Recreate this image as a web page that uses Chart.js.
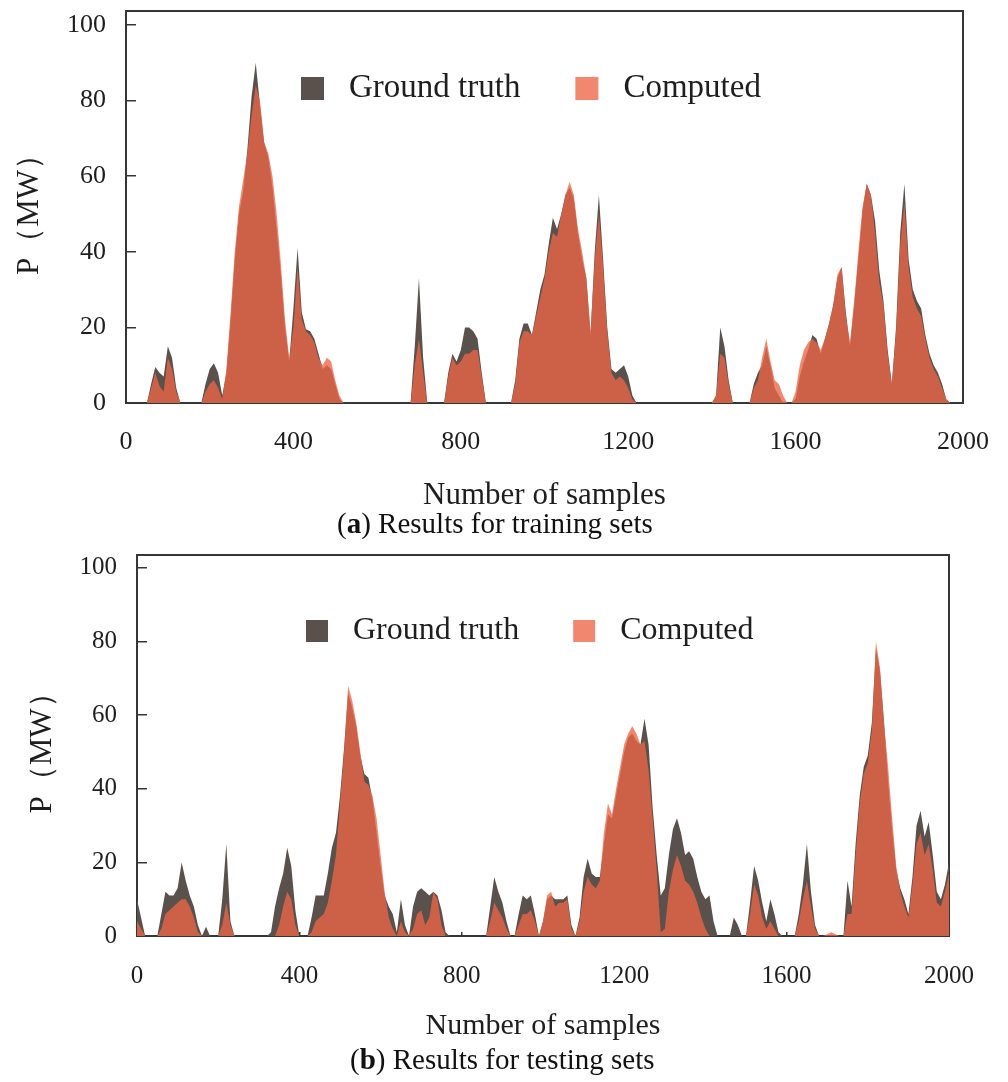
<!DOCTYPE html>
<html>
<head>
<meta charset="utf-8">
<title>Training and testing results</title>
<script src="https://cdn.jsdelivr.net/npm/chart.js@4.4.0/dist/chart.umd.min.js"></script>
<style>
  html, body { margin: 0; padding: 0; background: #fff; }
  #page { position: relative; width: 1008px; height: 1082px; overflow: hidden; background: #fff; }
  canvas { position: absolute; left: 0; }
  #chartA { top: 0; }
  #chartB { top: 545px; }
  .caption { position: absolute; font-family: 'Liberation Serif', serif; font-size: 29px; line-height: 32px; color: #111; white-space: nowrap; }
  #capA { left: 337px; top: 507px; }
  #capB { left: 350px; top: 1043px; }
</style>
</head>
<body>
<div id="page">
  <canvas id="chartA" width="1008" height="514"></canvas>
  <canvas id="chartB" width="1008" height="499"></canvas>
  <div class="caption" id="capA">(<b>a</b>) Results for training sets</div>
  <div class="caption" id="capB">(<b>b</b>) Results for testing sets</div>
</div>
<script>
// sample index, one value every 10 samples (0 .. 2000)
let samples = Array.from({length: 201}, (_, i) => i * 10);
let xTicks = [0, 400, 800, 1200, 1600, 2000];
let yTicks = [0, 20, 40, 60, 80, 100];

// (a) training set, P in MW
let trainTruth = [
  0, 0, 0, 0, 0, 0, 5, 9.5, 8, 7,            // 0
  15, 12, 4, 0, 0, 0, 0, 0, 0, 5,            // 100
  9, 10.5, 8, 2, 8, 22, 38, 50, 56, 67,      // 200
  81, 90, 79, 69, 65, 57, 46, 34, 20, 11,    // 300
  25, 41, 24, 19.5, 19, 17, 13, 9, 10, 9,    // 400
  5, 1, 0, 0, 0, 0, 0, 0, 0, 0,              // 500
  0, 0, 0, 0, 0, 0, 0, 0, 0, 15,             // 600
  33, 12, 0, 0, 0, 0, 0, 8, 13, 11,          // 700
  14, 20, 20, 19, 17, 8, 0, 0, 0, 0,         // 800
  0, 0, 0, 6, 17, 21, 21, 18, 24, 30,        // 900
  34, 42, 49, 46, 50, 55, 57, 54, 45, 38,    // 1000
  33, 18, 40, 55, 38, 20, 9, 8, 9, 10,       // 1100
  7, 2, 0, 0, 0, 0, 0, 0, 0, 0,              // 1200
  0, 0, 0, 0, 0, 0, 0, 0, 0, 0,              // 1300
  0, 2, 20, 15, 6, 0, 0, 0, 0, 0,            // 1400
  5, 8, 10, 15, 10, 4, 2, 0, 0, 0,           // 1500
  1, 7, 11, 14, 18, 17, 13, 17, 21, 26,      // 1600
  33, 36, 24, 15, 26, 38, 51, 58, 55, 48,    // 1700
  35, 27, 14, 5, 20, 45, 58, 38, 30, 27,     // 1800
  25, 18, 13, 10, 8, 5, 1, 0, 0, 0,          // 1900
  0
];
let trainComputed = [
  0, 0, 0, 0, 0, 0, 4, 8, 4.5, 3,
  12, 9, 3, 0, 0, 0, 0, 0, 0, 3,
  5, 6, 4, 1, 9, 24, 40, 52, 59, 66,
  76, 84, 80, 69, 66, 60, 50, 37, 22, 12,
  20, 36, 22, 19, 18, 16, 12, 10, 12, 11,
  6, 2, 0, 0, 0, 0, 0, 0, 0, 0,
  0, 0, 0, 0, 0, 0, 0, 0, 0, 10,
  17, 8, 0, 0, 0, 0, 0, 7, 12, 10,
  11, 13, 13, 14, 14, 7, 0, 0, 0, 0,
  0, 0, 0, 5, 16, 19, 19, 18, 23, 28,
  33, 40, 45, 44, 50, 55, 58.5, 55, 46, 40,
  33, 19, 38, 50, 36, 19, 8, 6, 7, 6,
  4, 1, 0, 0, 0, 0, 0, 0, 0, 0,
  0, 0, 0, 0, 0, 0, 0, 0, 0, 0,
  0, 2, 13, 12, 5, 0, 0, 0, 0, 0,
  4, 6, 12, 17, 11, 6, 5, 2, 0, 0,
  3, 10, 14, 16, 17, 16, 14, 17, 21, 26,
  34, 36, 23, 16, 27, 40, 52, 58, 55, 45,
  32, 26, 13, 5, 19, 42, 53, 36, 28, 25,
  23, 17, 12, 9, 7, 4, 1, 0, 0, 0,
  0
];

// (b) testing set, P in MW
let testTruth = [
  10, 5, 0, 0, 0, 0, 6, 12, 11, 11,          // 0
  13, 20, 15, 11, 8, 3, 0, 2.5, 0, 0,        // 100
  0, 10, 25, 4, 0, 0, 0, 0, 0, 0,            // 200
  0, 0, 0, 1, 8, 13, 17, 24, 19, 7,          // 300
  0, 0, 0, 5, 11, 11, 11, 17, 24, 28,        // 400
  38, 51, 66, 62, 57, 49, 44, 43, 37, 28,    // 500
  19, 11, 8, 6, 1, 10, 3, 0, 8, 12,          // 600
  13, 12, 11, 12, 11, 7, 1, 0, 0, 0,         // 700
  0, 0, 0, 0, 0, 0, 0, 8, 16, 12,            // 800
  9, 4, 0, 0, 6, 11, 10, 11, 6, 0,           // 900
  4, 10, 11, 10, 10, 10, 11, 3, 0, 5,        // 1000
  16, 21, 17, 16, 16, 25, 33, 32, 38, 44,    // 1100
  50, 54, 55, 53, 52, 59, 52, 35, 22, 11,    // 1200
  13, 22, 29, 32, 28, 22, 23, 21, 16, 12,    // 1300
  10, 11, 4, 0, 0, 0, 0, 5, 3, 0,            // 1400
  0, 9, 19, 15, 9, 4, 10, 6, 1, 0,           // 1500
  0, 0, 0, 6, 14, 25, 12, 3, 0, 0,           // 1600
  0, 0, 0, 0, 0, 15, 8, 25, 38, 46,          // 1700
  49, 58, 78, 72, 58, 42, 29, 18, 13, 10,    // 1800
  6, 16, 30, 34, 27, 31, 22, 12, 10, 14,     // 1900
  20
];
let testComputed = [
  4, 2, 0, 0, 0, 0, 2, 6, 7, 8,
  9, 10, 10, 8, 5, 1, 0, 0, 0, 0,
  0, 3, 9, 3, 0, 0, 0, 0, 0, 0,
  0, 0, 0, 0, 0, 3, 8, 12, 10, 3,
  0, 0, 0, 1, 4, 5, 6, 9, 15, 22,
  36, 50, 68, 64, 58, 50, 42, 41, 38, 32,
  22, 12, 5, 2, 0, 4, 1, 0, 2, 6,
  7, 3, 5, 12, 10, 3, 0, 0, 0, 0,
  0, 0, 0, 0, 0, 0, 0, 4, 9, 7,
  5, 2, 0, 0, 3, 6, 6, 7, 4, 0,
  4, 11, 12, 8, 9, 9, 10, 2, 0, 4,
  12, 16, 14, 13, 15, 28, 36, 33, 40, 46,
  52, 55, 57, 55, 52, 53, 45, 32, 18, 1,
  2, 12, 18, 22, 19, 15, 14, 12, 9, 5,
  2, 0, 0, 0, 0, 0, 0, 0, 0, 0,
  0, 6, 14, 11, 5, 2, 4, 2, 0, 0,
  0, 0, 0, 4, 10, 15, 8, 2, 0, 0,
  0.5, 1, 0.5, 0, 0, 6, 6, 22, 36, 44,
  47, 56, 80, 73, 58, 46, 32, 19, 12, 8,
  5, 14, 25, 28, 22, 25, 18, 9, 8, 12,
  17
];

let serif = "'Liberation Serif', 'Times New Roman', serif";
let truthColor = '#5a514d';
let computedColor = 'rgba(236, 101, 69, 0.78)';
let axisColor = '#363636';
let textColor = '#1e1e1e';

Chart.defaults.font.family = serif;
Chart.defaults.color = textColor;

// legend drawn inside the framed plot area
let innerLegend = {
  id: 'innerLegend',
  afterDraw(chart, args, opts) {
    let ctx = chart.ctx;
    let area = chart.chartArea;
    ctx.save();
    ctx.font = opts.fontSize + 'px ' + serif;
    ctx.textBaseline = 'middle';
    ctx.textAlign = 'left';
    let x = area.left + opts.left;
    let y = area.top + opts.centerY;
    opts.order.forEach(function (i) {
      let ds = chart.data.datasets[i];
      ctx.fillStyle = ds.backgroundColor;
      ctx.fillRect(x, y - opts.box / 2, opts.box, opts.box);
      ctx.fillStyle = textColor;
      ctx.fillText(ds.label, x + opts.box + opts.textGap, y);
      x += opts.box + opts.textGap + ctx.measureText(ds.label).width + opts.itemGap;
    });
    ctx.restore();
  }
};

function toPoints(values) {
  return values.map((v, i) => ({x: samples[i], y: v}));
}

// keep the plot box where we want it: no extra room for overhanging labels
function noOverhang(sc) {
  sc.paddingLeft = 0;
  sc.paddingRight = 0;
  sc.paddingTop = 0;
  sc.paddingBottom = 0;
}

function makeChart(id, truth, computed, s) {
  return new Chart(document.getElementById(id), {
    type: 'line',
    data: {
      datasets: [
        {label: 'Computed', data: toPoints(computed), backgroundColor: computedColor, fill: 'origin'},
        {label: 'Ground truth', data: toPoints(truth), backgroundColor: truthColor, fill: 'origin'}
      ]
    },
    options: {
      responsive: false,
      animation: false,
      events: [],
      layout: {padding: 0},
      elements: {
        point: {radius: 0},
        line: {borderWidth: 0, tension: 0}
      },
      plugins: {
        legend: {display: false},
        tooltip: {enabled: false},
        innerLegend: s.legend
      },
      scales: {
        x: {
          type: 'linear',
          position: 'bottom',
          min: 0,
          max: 2000,
          afterBuildTicks: sc => { sc.ticks = xTicks.map(v => ({value: v})); },
          afterFit: sc => { sc.height = s.xHeight; noOverhang(sc); },
          ticks: {font: {size: s.tickSize}, color: textColor, padding: s.xTickPad, maxRotation: 0, autoSkip: false, callback: v => String(v)},
          grid: {drawOnChartArea: false, tickLength: -4, color: axisColor, lineWidth: 1.5},
          border: {color: axisColor, width: 2},
          title: {
            display: true,
            text: 'Number of samples',
            color: textColor,
            font: {family: serif, size: s.xTitleSize},
            padding: {top: 0, bottom: 0}
          }
        },
        y: {
          min: 0,
          max: s.yMax,
          afterBuildTicks: sc => { sc.ticks = yTicks.map(v => ({value: v})); },
          afterFit: sc => { sc.width = s.yWidth; noOverhang(sc); },
          ticks: {font: {size: s.tickSize}, color: textColor, padding: 30, callback: v => String(v)},
          grid: {drawOnChartArea: false, tickLength: -10, color: axisColor, lineWidth: 1.5},
          border: {color: axisColor, width: 2},
          title: {
            display: true,
            text: 'P（MW）',
            color: textColor,
            font: {family: serif, size: s.yTitleSize},
            padding: {top: s.yTitlePad, bottom: 0}
          }
        },
        xTop: {
          type: 'linear',
          position: 'top',
          min: 0,
          max: 2000,
          ticks: {display: false},
          grid: {display: false, drawTicks: false},
          border: {color: axisColor, width: 2},
          afterFit: sc => { sc.height = s.topGap; noOverhang(sc); }
        },
        yRight: {
          type: 'linear',
          position: 'right',
          min: 0,
          max: s.yMax,
          ticks: {display: false},
          grid: {display: false, drawTicks: false},
          border: {color: axisColor, width: 2},
          afterFit: sc => { sc.width = s.rightGap; noOverhang(sc); }
        }
      }
    },
    plugins: [innerLegend]
  });
}

makeChart('chartA', trainTruth, trainComputed, {
  yMax: 103.7, yWidth: 126, rightGap: 45, topGap: 11,
  xHeight: 111, xTickPad: 28, tickSize: 26,
  xTitleSize: 31,
  yTitleSize: 31, yTitlePad: 11,
  legend: {left: 175, centerY: 77.5, box: 23, textGap: 25, itemGap: 55, fontSize: 33, order: [1, 0]}
});

makeChart('chartB', testTruth, testComputed, {
  yMax: 103.5, yWidth: 137, rightGap: 59, topGap: 10,
  xHeight: 108, xTickPad: 29, tickSize: 25,
  xTitleSize: 30,
  yTitleSize: 31, yTitlePad: 24,
  legend: {left: 169, centerY: 76, box: 22, textGap: 25, itemGap: 54, fontSize: 32, order: [1, 0]}
});
</script>
</body>
</html>
